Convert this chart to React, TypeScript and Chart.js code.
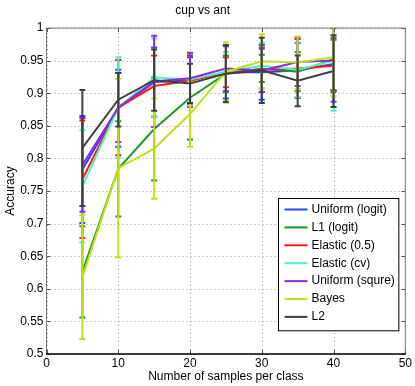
import React, { useEffect, useRef } from "react";
import { Chart, registerables } from "chart.js";

Chart.register(...registerables);

const titleText = "cup vs ant";
const xAxisTitle = "Number of samples per class";
const yAxisTitle = "Accuracy";

const xValues = [5, 10, 15, 20, 25, 30, 35, 40];
const xTicks = [0, 10, 20, 30, 40, 50];
const yTicks = [0.5, 0.55, 0.6, 0.65, 0.7, 0.75, 0.8, 0.85, 0.9, 0.95, 1];

const seriesNames = ["Uniform (logit)", "L1 (logit)", "Elastic (0.5)", "Elastic (cv)", "Uniform (squre)", "Bayes", "L2"];

const uniformLogitMean = [0.783, 0.877, 0.917, 0.92, 0.932, 0.932, 0.935, 0.945];
const uniformLogitErr = [0.082, 0.059, 0.053, 0.035, 0.04, 0.042, 0.042, 0.04];

const l1LogitMean = [0.626, 0.784, 0.845, 0.893, 0.93, 0.938, 0.933, 0.952];
const l1LogitErr = [0.07, 0.073, 0.079, 0.064, 0.028, 0.021, 0.03, 0.048];

const elastic05Mean = [0.768, 0.878, 0.911, 0.919, 0.932, 0.936, 0.938, 0.942];
const elastic05Err = [0.09, 0.073, 0.047, 0.04, 0.023, 0.034, 0.045, 0.04];

const elasticCvMean = [0.757, 0.878, 0.924, 0.921, 0.933, 0.942, 0.936, 0.95];
const elasticCvErr = [0.086, 0.077, 0.06, 0.04, 0.03, 0.035, 0.042, 0.077];

const uniformSqureMean = [0.79, 0.878, 0.918, 0.923, 0.938, 0.935, 0.948, 0.95];
const uniformSqureErr = [0.072, 0.053, 0.07, 0.039, 0.035, 0.033, 0.037, 0.063];

const bayesMean = [0.618, 0.785, 0.815, 0.868, 0.933, 0.949, 0.947, 0.955];
const bayesErr = [0.095, 0.137, 0.077, 0.05, 0.045, 0.041, 0.04, 0.06];

const l2Mean = [0.816, 0.89, 0.92, 0.915, 0.93, 0.935, 0.919, 0.934];
const l2Err = [0.089, 0.041, 0.047, 0.03, 0.044, 0.05, 0.039, 0.055];

const seriesMeans = [uniformLogitMean, l1LogitMean, elastic05Mean, elasticCvMean, uniformSqureMean, bayesMean, l2Mean];
const seriesErrs = [uniformLogitErr, l1LogitErr, elastic05Err, elasticCvErr, uniformSqureErr, bayesErr, l2Err];
const seriesColors = ["#2244ff", "#1e9a1e", "#ff1a1a", "#4ef2c4", "#8a2be2", "#bde21a", "#404040"];

const FONT = "'Liberation Sans', Arial, Helvetica, sans-serif";

const gridPlugin = {
  id: "dottedGrid",
  beforeDatasetsDraw(chart: any) {
    const { ctx, chartArea } = chart;
    const { left, right, top, bottom } = chartArea;
    const xs = chart.scales.x;
    const ys = chart.scales.y;
    ctx.save();
    ctx.strokeStyle = "#9a9a9a";
    ctx.lineWidth = 1;
    ctx.setLineDash([1, 3]);
    ctx.beginPath();
    xTicks.forEach((v) => {
      const px = Math.round(xs.getPixelForValue(v)) + 0.5;
      ctx.moveTo(px, bottom);
      ctx.lineTo(px, top);
    });
    yTicks.forEach((v) => {
      const py = Math.round(ys.getPixelForValue(v)) + 0.5;
      ctx.moveTo(left, py);
      ctx.lineTo(right, py);
    });
    ctx.stroke();
    ctx.restore();
  },
};

const errorBarPlugin = {
  id: "errorBars",
  afterDatasetDraw(chart: any, args: any) {
    const ds = chart.data.datasets[args.index];
    const errs: number[] = ds.errors;
    if (!errs) return;
    const { ctx, chartArea } = chart;
    const xs = chart.scales.x;
    const ys = chart.scales.y;
    ctx.save();
    ctx.beginPath();
    ctx.rect(chartArea.left, chartArea.top, chartArea.right - chartArea.left, chartArea.bottom - chartArea.top);
    ctx.clip();
    ctx.strokeStyle = ds.borderColor;
    ds.data.forEach((pt: any, i: number) => {
      const px = xs.getPixelForValue(pt.x);
      const yt = ys.getPixelForValue(pt.y + errs[i]);
      const yb = ys.getPixelForValue(pt.y - errs[i]);
      ctx.lineWidth = 2;
      ctx.beginPath();
      ctx.moveTo(px, yt);
      ctx.lineTo(px, yb);
      ctx.stroke();
      ctx.beginPath();
      ctx.moveTo(px - 3, yt);
      ctx.lineTo(px + 3, yt);
      ctx.moveTo(px - 3, yb);
      ctx.lineTo(px + 3, yb);
      ctx.stroke();
    });
    ctx.restore();
  },
};

const frameLegendPlugin = {
  id: "frameLegend",
  afterDraw(chart: any) {
    const { ctx, chartArea } = chart;
    const { left, right, top, bottom } = chartArea;
    const xs = chart.scales.x;
    const ys = chart.scales.y;
    ctx.save();
    ctx.strokeStyle = "#555";
    ctx.lineWidth = 1;
    ctx.beginPath();
    xTicks.forEach((v) => {
      const px = Math.round(xs.getPixelForValue(v)) + 0.5;
      ctx.moveTo(px, bottom);
      ctx.lineTo(px, bottom - 4);
      ctx.moveTo(px, top);
      ctx.lineTo(px, top + 4);
    });
    yTicks.forEach((v) => {
      const py = Math.round(ys.getPixelForValue(v)) + 0.5;
      ctx.moveTo(left, py);
      ctx.lineTo(left + 4, py);
      ctx.moveTo(right, py);
      ctx.lineTo(right - 4, py);
    });
    ctx.stroke();
    ctx.strokeStyle = "#777";
    ctx.lineWidth = 1;
    ctx.beginPath();
    ctx.moveTo(left, bottom);
    ctx.lineTo(left, top);
    ctx.lineTo(right, top);
    ctx.lineTo(right, bottom);
    ctx.stroke();
    ctx.strokeStyle = "#000";
    ctx.lineWidth = 1.5;
    ctx.beginPath();
    ctx.moveTo(left - 0.5, bottom);
    ctx.lineTo(right + 0.5, bottom);
    ctx.stroke();

    ctx.font = `12px ${FONT}`;
    let maxW = 0;
    seriesNames.forEach((n) => {
      maxW = Math.max(maxW, ctx.measureText(n).width);
    });
    const rowH = 17.9;
    const boxW = 6 + 23 + 4 + maxW + 4;
    const boxH = rowH * seriesNames.length + 7;
    const bx = Math.round(right - 7 - boxW) + 0.5;
    const by = Math.round(bottom - 24 - boxH) + 0.5;
    ctx.fillStyle = "#fff";
    ctx.fillRect(bx, by, boxW, boxH);
    ctx.strokeStyle = "#000";
    ctx.lineWidth = 1;
    ctx.strokeRect(bx, by, boxW, boxH);
    ctx.textBaseline = "middle";
    ctx.textAlign = "left";
    seriesNames.forEach((n, i) => {
      const cy = by + 11 + i * rowH;
      ctx.strokeStyle = seriesColors[i];
      ctx.lineWidth = 2;
      ctx.beginPath();
      ctx.moveTo(bx + 6, cy);
      ctx.lineTo(bx + 29, cy);
      ctx.stroke();
      ctx.fillStyle = "#000";
      ctx.fillText(n, bx + 33, cy);
    });
    ctx.restore();
  },
};

export default function App() {
  const canvasRef = useRef<HTMLCanvasElement | null>(null);

  useEffect(() => {
    if (!canvasRef.current) return;
    const n = seriesNames.length;
    const datasets = seriesNames.map((name, i) => ({
      label: name,
      data: xValues.map((x, j) => ({ x, y: seriesMeans[i][j] })),
      errors: seriesErrs[i],
      borderColor: seriesColors[i],
      backgroundColor: seriesColors[i],
      borderWidth: 2,
      pointRadius: 0,
      tension: 0,
      fill: false,
      order: n - i,
    }));
    const chart = new Chart(canvasRef.current, {
      type: "line",
      data: { datasets: datasets as any },
      options: {
        animation: false,
        responsive: false,
        layout: { padding: { left: 0, right: 9.7, top: 0, bottom: 0 } },
        plugins: {
          legend: { display: false },
          tooltip: { enabled: false },
          title: {
            display: true,
            text: titleText,
            color: "#000",
            font: { family: FONT, size: 12, weight: "normal" },
            padding: { top: 3, bottom: 10.6 },
          },
        },
        scales: {
          x: {
            type: "linear",
            min: 0,
            max: 50,
            afterBuildTicks: (scale: any) => {
              scale.ticks = xTicks.map((v) => ({ value: v }));
            },
            afterFit: (scale: any) => {
              scale.height = 32;
            },
            ticks: {
              color: "#000",
              font: { family: FONT, size: 12 },
              padding: 2,
              maxRotation: 0,
              callback: (v: any) => String(v),
            },
            grid: { display: false, drawTicks: false },
            border: { display: false },
            title: {
              display: true,
              text: xAxisTitle,
              color: "#000",
              font: { family: FONT, size: 12 },
              padding: { top: 0, bottom: 2.5 },
            },
          },
          y: {
            type: "linear",
            min: 0.5,
            max: 1,
            afterBuildTicks: (scale: any) => {
              scale.ticks = yTicks.map((v) => ({ value: v }));
            },
            afterFit: (scale: any) => {
              scale.width = 46.5;
            },
            ticks: {
              color: "#000",
              font: { family: FONT, size: 12 },
              padding: 3,
              callback: (v: any) => String(Math.round(Number(v) * 100) / 100),
            },
            grid: { display: false, drawTicks: false },
            border: { display: false },
            title: {
              display: true,
              text: yAxisTitle,
              color: "#000",
              font: { family: FONT, size: 12 },
              padding: { top: 3, bottom: 0 },
            },
          },
        },
      },
      plugins: [gridPlugin, errorBarPlugin, frameLegendPlugin],
    });
    return () => chart.destroy();
  }, []);

  return (
    <div style={{ position: "absolute", left: 0, top: 0, width: 415, height: 386, background: "#fff" }}>
      <canvas ref={canvasRef} width={415} height={386} style={{ display: "block" }} />
    </div>
  );
}
